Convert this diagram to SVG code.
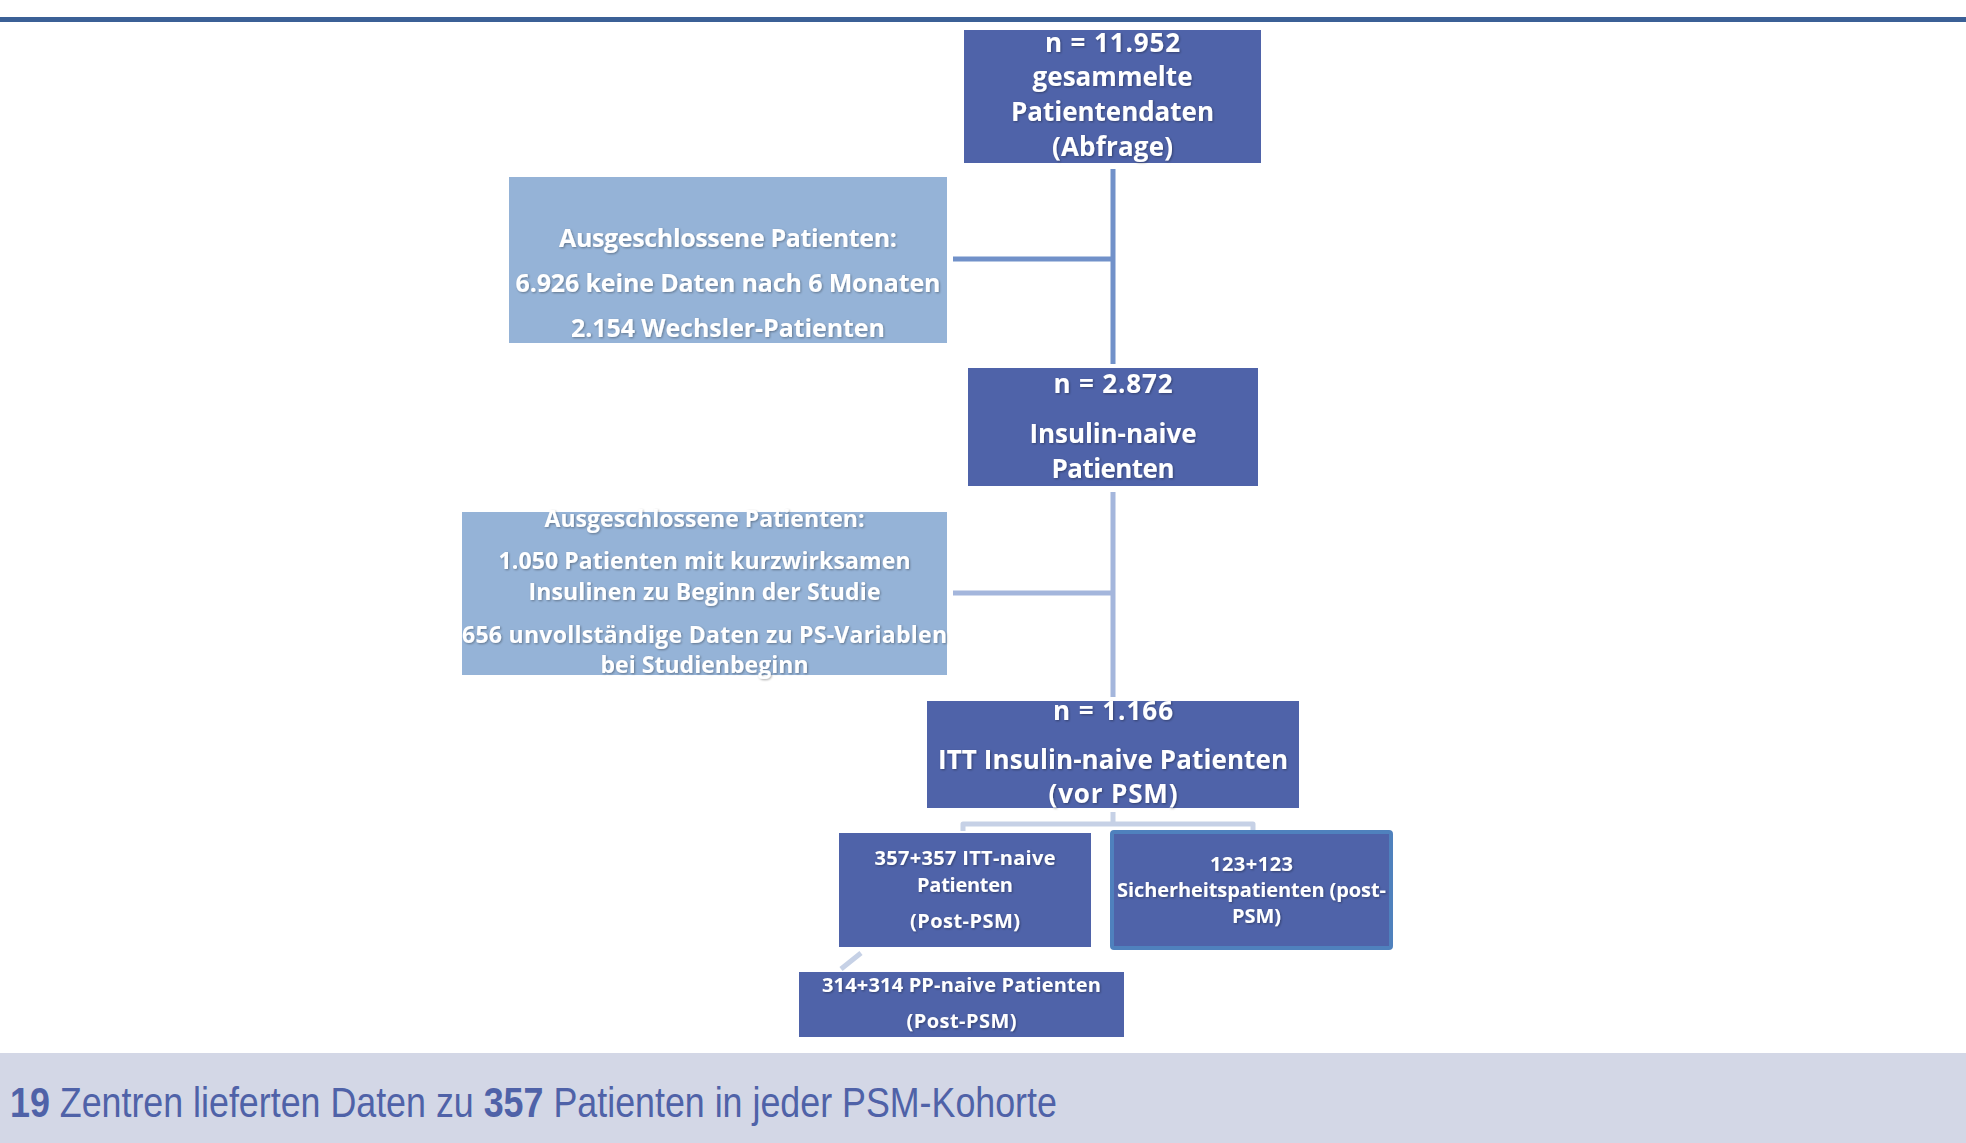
<svg xmlns="http://www.w3.org/2000/svg" width="1966" height="1143" viewBox="0 0 1966 1143">
<style>
.main{fill:#4f63a9}
.light{fill:#95b3d7}
.t{font-family:"Open Sans","Noto Sans","DejaVu Sans",sans-serif;font-weight:700;fill:#ffffff;text-anchor:middle}
.big{font-size:26px}
.mid{font-size:25px}
.sm{font-size:23px}
.xs{font-size:20px}
.c1{stroke:#7191c9;stroke-width:5;fill:none}
.c2{stroke:#a4b6dc;stroke-width:5;fill:none}
.c3{stroke:#c6d1e6;stroke-width:5;fill:none;stroke-linejoin:round}
.foot{font-family:"Liberation Sans",Arial,sans-serif;font-size:42px;fill:#4f62a8}
.b{font-weight:700}
</style>
<defs>
<filter id="sh" x="-10%" y="-30%" width="120%" height="160%">
<feDropShadow dx="1" dy="1" stdDeviation="1" flood-color="#000000" flood-opacity="0.35"/>
</filter>
</defs>
<rect width="1966" height="1143" fill="#ffffff"/>
<rect x="0" y="17" width="1966" height="5" fill="#3b6096"/>
<g id="connectors">
<path class="c1" d="M1113 169 V364"/>
<path class="c1" d="M953 259 H1113"/>
<path class="c2" d="M1113 492 V697"/>
<path class="c2" d="M953 593 H1113"/>
<path class="c3" d="M1113 812 V824 M963 831 V824 H1253 V830"/>
<path class="c3" d="M861 953 L841 969"/>
</g>
<g id="n1">
<rect class="main" x="964" y="30" width="297" height="133"/>
<g class="t big" filter="url(#sh)">
<text x="1112.5" y="52" textLength="135" lengthAdjust="spacing">n = 11.952</text>
<text x="1112.5" y="86" textLength="160" lengthAdjust="spacing">gesammelte</text>
<text x="1112.5" y="121" textLength="203" lengthAdjust="spacing">Patientendaten</text>
<text x="1112.5" y="156" textLength="121" lengthAdjust="spacing">(Abfrage)</text>
</g>
</g>
<g id="x1">
<rect class="light" x="509" y="177" width="438" height="166"/>
<g class="t mid" filter="url(#sh)">
<text x="728" y="247" textLength="338" lengthAdjust="spacing">Ausgeschlossene Patienten:</text>
<text x="728" y="292" textLength="425" lengthAdjust="spacing">6.926 keine Daten nach 6 Monaten</text>
<text x="728" y="337" textLength="314" lengthAdjust="spacing">2.154 Wechsler-Patienten</text>
</g>
</g>
<g id="n2">
<rect class="main" x="968" y="368" width="290" height="118"/>
<g class="t big" filter="url(#sh)">
<text x="1113" y="393" textLength="119" lengthAdjust="spacing">n = 2.872</text>
<text x="1113" y="443" textLength="167" lengthAdjust="spacing">Insulin-naive</text>
<text x="1113" y="478" textLength="123" lengthAdjust="spacing">Patienten</text>
</g>
</g>
<g id="x2">
<rect class="light" x="462" y="512" width="485" height="163"/>
<g class="t sm" filter="url(#sh)">
<text x="704.5" y="527" textLength="320" lengthAdjust="spacing">Ausgeschlossene Patienten:</text>
<text x="704.5" y="569" textLength="412" lengthAdjust="spacing">1.050 Patienten mit kurzwirksamen</text>
<text x="704.5" y="600" textLength="352" lengthAdjust="spacing">Insulinen zu Beginn der Studie</text>
<text x="704.5" y="643" textLength="485" lengthAdjust="spacing">656 unvollständige Daten zu PS-Variablen</text>
<text x="704.5" y="673" textLength="208" lengthAdjust="spacing">bei Studienbeginn</text>
</g>
</g>
<g id="n3">
<rect class="main" x="927" y="701" width="372" height="107"/>
<g class="t big" filter="url(#sh)">
<text x="1113" y="720" textLength="120" lengthAdjust="spacing">n = 1.166</text>
<text x="1113" y="769" textLength="350" lengthAdjust="spacing">ITT Insulin-naive Patienten</text>
<text x="1113" y="803" textLength="129" lengthAdjust="spacing">(vor PSM)</text>
</g>
</g>
<g id="n4">
<rect class="main" x="839" y="833" width="252" height="114"/>
<g class="t xs" filter="url(#sh)">
<text x="965" y="865" textLength="181" lengthAdjust="spacing">357+357 ITT-naive</text>
<text x="965" y="892" textLength="96" lengthAdjust="spacing">Patienten</text>
<text x="965" y="928" textLength="110" lengthAdjust="spacing">(Post-PSM)</text>
</g>
</g>
<g id="n5">
<rect class="main" x="1112" y="832" width="279" height="116" rx="2" stroke="#4f81bd" stroke-width="4"/>
<g class="t xs" filter="url(#sh)">
<text x="1251.5" y="871" textLength="83" lengthAdjust="spacing">123+123</text>
<text x="1251.5" y="897" textLength="269" lengthAdjust="spacing">Sicherheitspatienten (post-</text>
<text x="1256.5" y="923">PSM)</text>
</g>
</g>
<g id="n6">
<rect class="main" x="799" y="972" width="325" height="65"/>
<g class="t xs" filter="url(#sh)">
<text x="961.5" y="992" textLength="279" lengthAdjust="spacing">314+314 PP-naive Patienten</text>
<text x="961.5" y="1028" textLength="110" lengthAdjust="spacing">(Post-PSM)</text>
</g>
</g>
<g id="footer">
<rect x="0" y="1053" width="1966" height="90" fill="#d3d7e6"/>
<g class="foot" transform="translate(10 1117) scale(0.8526 1)">
<text class="b" x="0" y="0">19</text>
<text x="58.4" y="0">Zentren lieferten Daten zu</text>
<text class="b" x="555.6" y="0">357</text>
<text x="637.4" y="0">Patienten in jeder PSM-Kohorte</text>
</g>
</g>
</svg>
